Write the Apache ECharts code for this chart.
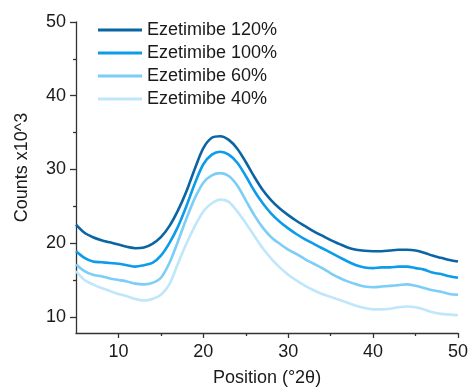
<!DOCTYPE html>
<html><head><meta charset="utf-8">
<script src="https://cdn.jsdelivr.net/npm/echarts@6/dist/echarts.min.js"></script>
<style>html,body{margin:0;padding:0;background:#fff}#c{width:471px;height:392px}</style>
</head><body><div id="c"></div>
<script>
const positions = [5,6,7,8,9,10,11,12,13,14,15,16,17,18,19,20,21,22,23,24,25,26,27,28,29,30,31,32,33,34,35,36,37,38,39,40,41,42,43,44,45,46,47,48,49,50];
const ezet120 = [22.5,21.4,20.8,20.4,20.1,19.8,19.5,19.3,19.4,19.9,20.8,22.3,24.4,27.0,30.1,32.9,34.3,34.5,34.0,32.8,31.0,29.0,27.2,25.8,24.7,23.8,23.0,22.3,21.6,21.0,20.4,19.9,19.4,19.1,18.95,18.9,18.9,19.0,19.1,19.1,19.0,18.7,18.3,18.0,17.7,17.5];
const ezet100 = [18.9,18.0,17.5,17.4,17.3,17.2,17.0,16.8,17.0,17.3,18.3,20.0,22.2,25.0,28.1,30.7,32.0,32.4,32.0,30.9,29.1,27.1,25.4,24.0,22.9,22.0,21.2,20.5,19.9,19.3,18.7,18.1,17.5,17.0,16.7,16.6,16.7,16.7,16.8,16.8,16.6,16.4,16.0,15.8,15.5,15.3];
const ezet60 = [17.1,16.2,15.7,15.5,15.2,15.0,14.8,14.5,14.4,14.6,15.3,17.3,20.2,23.3,26.1,28.2,29.2,29.5,29.1,27.8,25.8,23.8,22.1,20.8,19.9,19.1,18.5,17.8,17.2,16.6,15.9,15.3,14.8,14.4,14.1,14.0,14.1,14.2,14.3,14.4,14.2,13.9,13.6,13.4,13.1,13.0];
const ezet40 = [16.2,15.0,14.4,13.9,13.5,13.1,12.8,12.4,12.2,12.4,13.0,14.4,17.2,19.9,22.3,24.3,25.4,25.9,25.6,24.3,22.7,21.0,19.3,17.9,16.7,15.7,14.9,14.2,13.6,13.1,12.7,12.3,11.9,11.5,11.2,11.0,11.0,11.1,11.3,11.4,11.3,11.0,10.6,10.4,10.3,10.2];
const seriesNames = ['Ezetimibe 120%','Ezetimibe 100%','Ezetimibe 60%','Ezetimibe 40%'];
const seriesColors = ['#0b64a3','#0d9bec','#7ccdf7','#bfe6fb'];
const xMajor = [10,20,30,40,50];
const xMinor = [15,25,35,45];
const yMajor = [10,20,30,40,50];
const yMinor = [15,25,35,45];

const allY = [ezet120, ezet100, ezet60, ezet40];
const font = 'Liberation Sans, Arial, sans-serif';
const axisCol = '#333';
const chart = echarts.init(document.getElementById('c'), null, {renderer:'canvas'});
const xBase = {type:'value', min:5, max:50, position:'bottom', gridIndex:0};
const yBase = {type:'value', min:7.8, max:50, position:'left', gridIndex:0};
chart.setOption({
  animation:false,
  grid:{left:76, right:13, top:22, bottom:59, containLabel:false, outerBoundsMode:'none'},
  legend:{
    orient:'vertical', left:93, top:15, itemWidth:44, itemHeight:3, itemGap:3,
    icon:'rect',
    textStyle:{fontFamily:font, fontSize:18, color:'#1a1a1a', lineHeight:20},
    data: seriesNames
  },
  xAxis:[
    Object.assign({}, xBase, {
      name:'Position (°2θ)', nameLocation:'middle', nameGap:36,
      nameTextStyle:{fontFamily:font, fontSize:18, color:'#1a1a1a'},
      axisLine:{show:true, onZero:false, lineStyle:{color:axisCol, width:1.3}},
      axisTick:{show:true, inside:false, length:5, customValues:xMajor, lineStyle:{color:axisCol, width:1.3}},
      axisLabel:{show:true, customValues:xMajor, margin:10, fontFamily:font, fontSize:18, color:'#1a1a1a'},
      splitLine:{show:false}
    }),
    Object.assign({}, xBase, {
      axisLine:{show:false},
      axisTick:{show:true, length:3, customValues:xMinor, lineStyle:{color:axisCol, width:1.3}},
      axisLabel:{show:false},
      splitLine:{show:false}
    })
  ],
  yAxis:[
    Object.assign({}, yBase, {
      name:'Counts x10^3', nameLocation:'middle', nameGap:45,
      nameTextStyle:{fontFamily:font, fontSize:18, color:'#1a1a1a', padding:[0,0,0,20]},
      axisLine:{show:true, onZero:false, lineStyle:{color:axisCol, width:1.3}},
      axisTick:{show:true, inside:false, length:6, customValues:yMajor, lineStyle:{color:axisCol, width:1.3}},
      axisLabel:{show:true, customValues:yMajor, margin:10, fontFamily:font, fontSize:18, color:'#1a1a1a'},
      splitLine:{show:false}
    }),
    Object.assign({}, yBase, {
      axisLine:{show:false},
      axisTick:{show:true, length:3, customValues:yMinor, lineStyle:{color:axisCol, width:1.3}},
      axisLabel:{show:false},
      splitLine:{show:false}
    })
  ],
  series: seriesNames.map((n,i)=>({
    name:n, type:'line', xAxisIndex:0, yAxisIndex:0,
    data: positions.map((p,k)=>[p, allY[i][k]]),
    showSymbol:false, symbol:'none', smooth:0.3,
    lineStyle:{color:seriesColors[i], width:2.6},
    itemStyle:{color:seriesColors[i]},
    z: 10 - i
  }))
});
</script></body></html>
